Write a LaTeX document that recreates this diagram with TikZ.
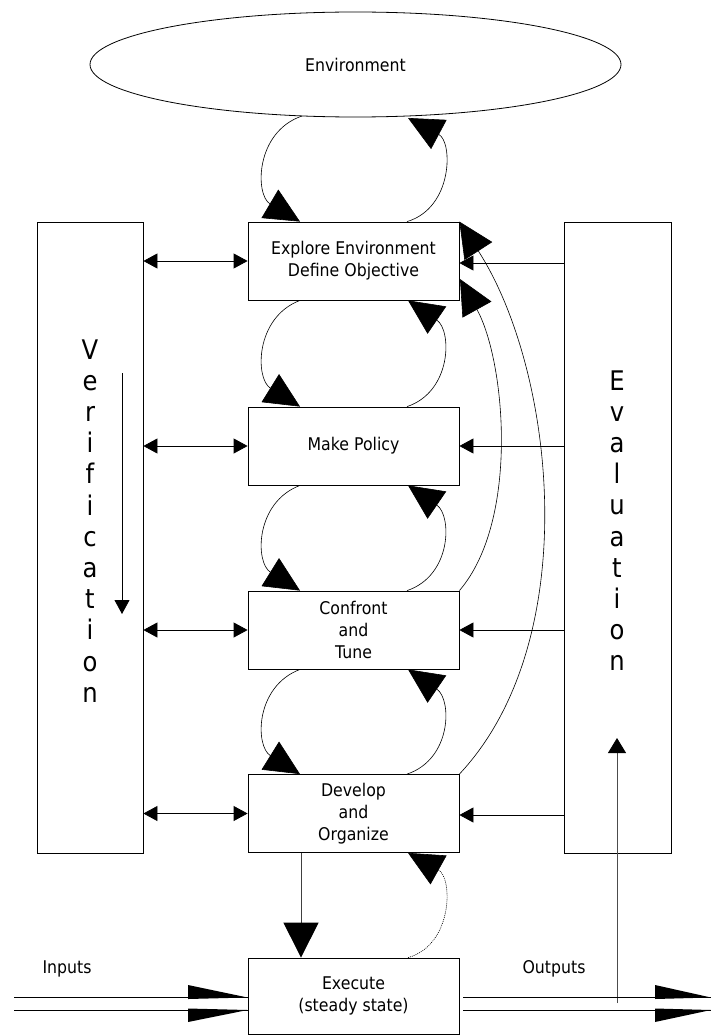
\documentclass[tikz,border=0pt]{standalone}
\usepackage{fontspec}
\setmainfont{DejaVu Sans}[FakeStretch=0.9]
\usetikzlibrary{arrows.meta,shapes.geometric}
\begin{document}
\begin{tikzpicture}[x=1pt,y=-1pt,
  line width=0.8pt,
  boxtext/.style={font=\fontsize{17.5}{22}\selectfont},
  stepbox/.style={draw,rectangle,minimum width=211pt,minimum height=78pt,
    align=center,inner sep=0pt,boxtext},
  sidebox/.style={draw,rectangle,minimum height=631pt,inner sep=0pt},
  vletter/.style={font=\fontsize{27}{31}\selectfont,anchor=base,inner sep=0pt},
  iolabel/.style={boxtext,inner sep=0pt},
  bigtip/.style={-{Triangle[length=35pt,width=33pt,fill=black,color=black]}},
  smalltip/.style={-{Triangle[length=14pt,width=15pt]}},
  bothtips/.style={{Triangle[length=14pt,width=15pt]}-{Triangle[length=14pt,width=15pt]}},
  loopline/.style={line width=0.6pt},
  doubleline/.style={line width=1pt},
]
\useasboundingbox (0,0) rectangle (711,1035);

% environment and process boxes
\node[draw,ellipse,inner sep=0pt,minimum width=531pt,minimum height=105pt,boxtext] (env) at (355.5,64.5) {Environment};
\node[stepbox] (explore) at (353.5,261) {Explore Environment\\Define Objective};
\node[stepbox] (policy) at (353.5,446) {Make Policy};
\node[stepbox] (confront) at (353.5,630) {Confront\\and\\Tune};
\node[stepbox] (develop) at (353.5,813.5) {Develop\\and\\Organize};
\node[stepbox,minimum height=76pt] (execute) at (353.5,996) {Execute\\(steady state)};

% side columns
\node[sidebox,minimum width=106pt] (verif) at (90,537.5) {};
\node[sidebox,minimum width=107pt] (eval) at (617.5,537.5) {};

\foreach \ch [count=\i] in {V,e,r,i,f,i,c,a,t,i,o,n}
  \node[vletter] (ver\i) at (90,{359+(\i-1)*31.2}) {\ch};
\foreach \ch [count=\i] in {E,v,a,l,u,a,t,i,o,n}
  \node[vletter] (eva\i) at (617,{390+(\i-1)*31.2}) {\ch};

% direction arrows inside the side columns
\coordinate (vtop) at (122,373);
\coordinate (vbot) at (122,614);
\draw[smalltip] (vtop) -- (vbot);
\coordinate (ebot) at (617,1003);
\coordinate (etop) at (617,738);
\draw[-{Triangle[length=15pt,width=18pt,fill=black,color=black]},draw=black!70] (ebot) -- (etop);

% verification links
\foreach \b/\y in {explore/261,policy/446,confront/630,develop/813.5}
  \draw[bothtips] (verif.east |- 0,\y) -- (\b.west |- 0,\y);
% evaluation feedback
\foreach \b/\y in {explore/263,policy/446,confront/630,develop/815}
  \draw[smalltip] (eval.west |- 0,\y) -- (\b.east |- 0,\y);

% loops between environment and exploration
\draw[loopline,bigtip] (302,116) .. controls (255,132) and (255,195) .. (explore.north -| 300,0);
\draw[loopline,bigtip] (explore.north -| 407,0) .. controls (453,208) and (453,142) .. (408,118);

% loops between consecutive steps
\foreach \u/\l in {explore/policy,policy/confront,confront/develop}{
  \draw[loopline,bigtip] (\u.south -| 300,0) .. controls +(-45,17) and +(-45,-28) .. (\l.north -| 300,0);
  \draw[loopline,bigtip] (\l.north -| 407,0) .. controls +(45,-15) and +(44,30) .. (\u.south -| 408,0);
}

% long feedback curves on the right
\draw[loopline,bigtip] (confront.north east) .. controls (520,520) and (505,360) .. (460,279);
\draw[loopline,bigtip] (develop.north east) .. controls (585,640) and (555,370) .. (explore.north east);

% develop to execute, and dotted return
\draw[line width=1pt,draw=black!75,-{Triangle[length=35pt,width=35pt,fill=black,color=black]}] (develop.south -| 301,0) -- (execute.north -| 301,0);
\draw[line width=0.6pt,dash pattern=on 1pt off 1pt,bigtip] (execute.north -| 408,0) .. controls (453,945) and (453,878) .. (develop.south -| 408,0);

% inputs and outputs
\node[iolabel] (inlab) at (67,969) {Inputs};
\node[iolabel] (outlab) at (554,969) {Outputs};
\coordinate (in1) at (14,997.5);
\coordinate (in2) at (14,1010);
\coordinate (out1) at (711,997.5);
\coordinate (out2) at (711,1010);
\draw[doubleline] (in1) -- (execute.west |- in1);
\draw[doubleline] (in2) -- (execute.west |- in2);
\fill (188,985) -- (execute.west |- in1) -- (188,999) -- cycle;
\fill (188,1008.5) -- (execute.west |- in2) -- (188,1022) -- cycle;
\draw[doubleline] (execute.east |- out1) ++(4,0) -- (out1);
\draw[doubleline] (execute.east |- out2) ++(4,0) -- (out2);
\fill (655,985) -- (out1) -- (655,999) -- cycle;
\fill (655,1008.5) -- (out2) -- (655,1022) -- cycle;
\end{tikzpicture}
\end{document}
